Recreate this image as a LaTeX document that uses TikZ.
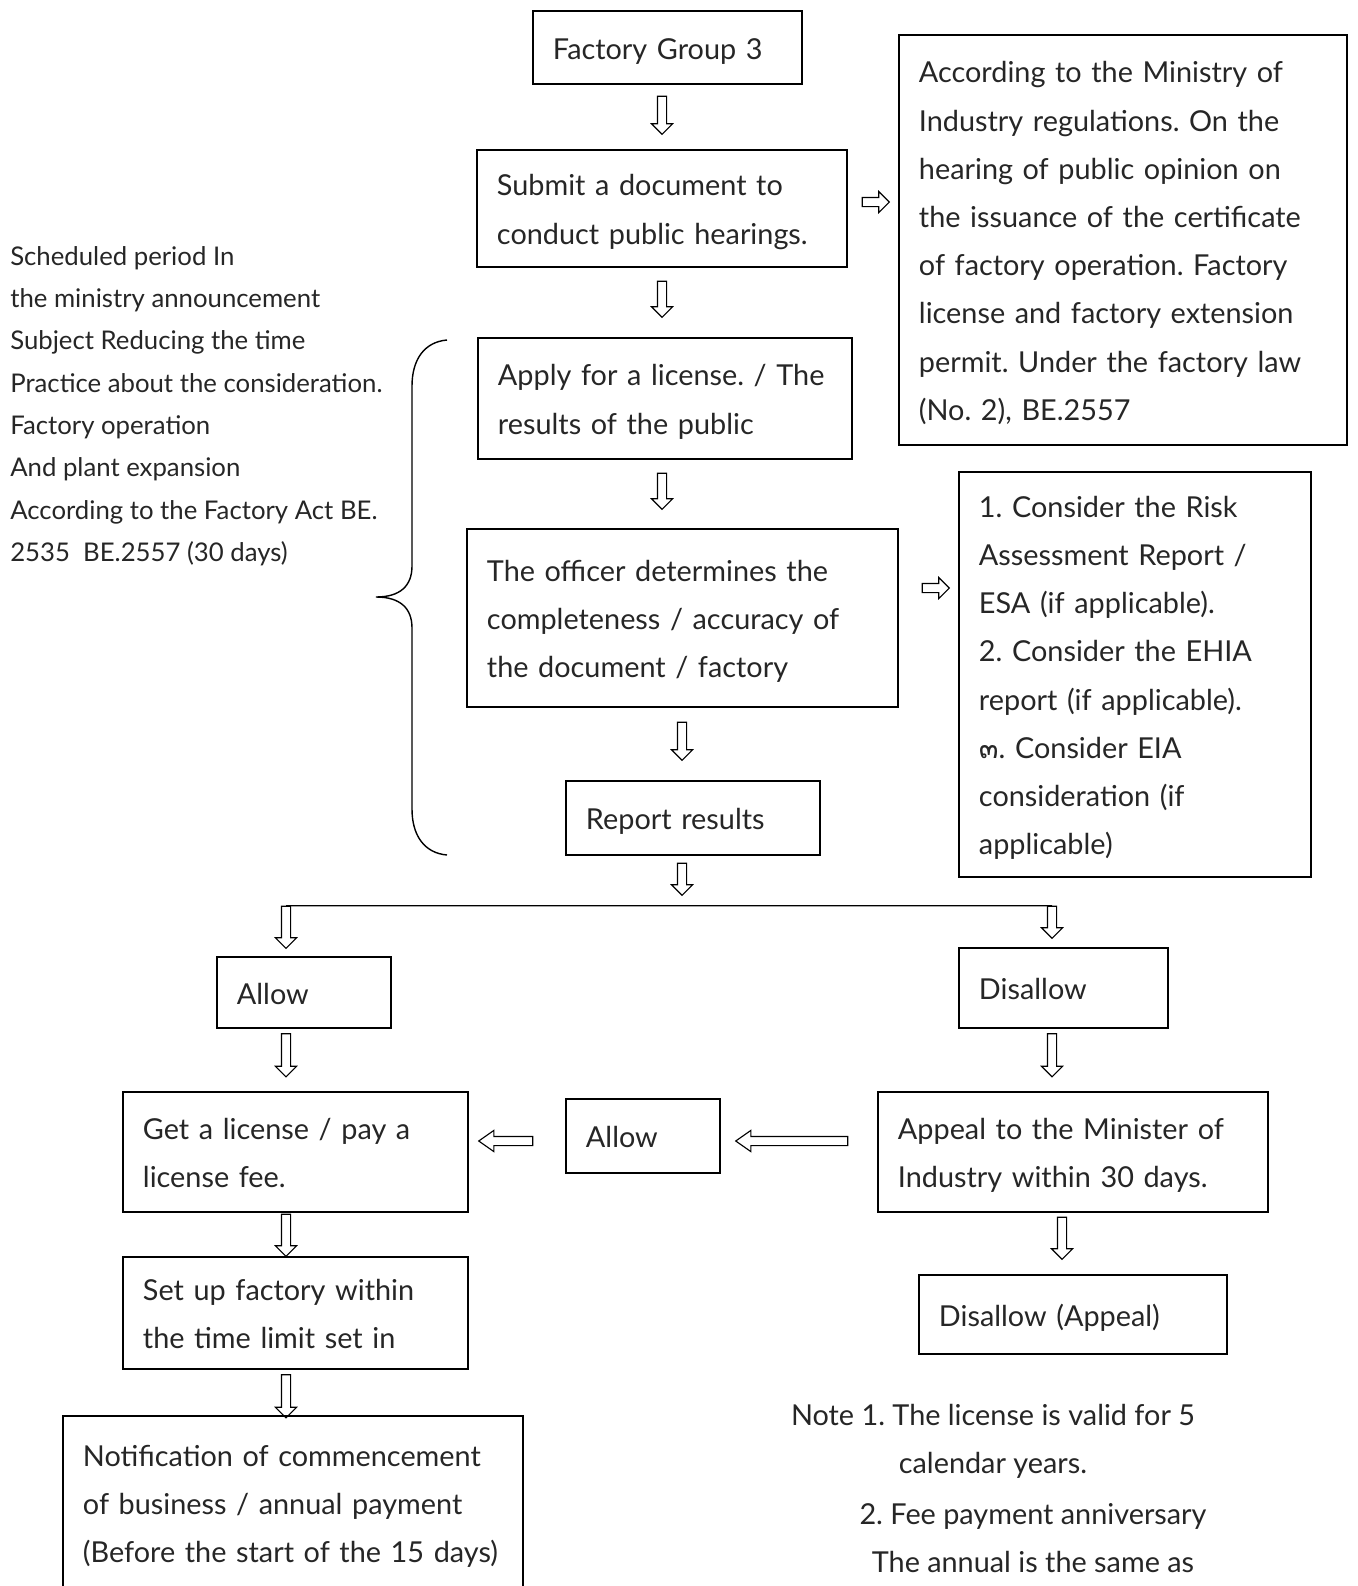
\documentclass[tikz,border=0pt]{standalone}
\usepackage{fontspec}
\setmainfont{Lato}
\newfontfamily\thaifont[Script=Thai]{Loma}
\usetikzlibrary{shapes.arrows}
\frenchspacing

\begin{document}
\begin{tikzpicture}[x=0.025cm,y=-0.025cm,
    every node/.style={text=black!85},
    box/.style={draw,line width=1.3pt,align=left,inner xsep=0.5cm,inner ysep=0pt,
      font=\fontsize{20.5}{34.3}\selectfont,
      execute at begin node={\rule{0pt}{22.5pt}},
      execute at end node={\rule[-6pt]{0pt}{6pt}}},
    fat/.style={single arrow,draw,line width=0.8pt,inner sep=0.1cm,
      single arrow head extend=0.15cm,minimum height=#1},
    darr/.style={fat=#1,shape border rotate=270},
    rarr/.style={fat=#1},
    larr/.style={fat=#1,shape border rotate=180,single arrow tip angle=70}]
    \useasboundingbox (0,0) rectangle (1357,1586);
    %
    \node[box,text width=5.725cm,minimum height=1.825cm] (grp) at (667.5,47.5) {Factory Group 3};
    \node[box,text width=8.25cm,minimum height=2.925cm] (sub) at (662,208.5)
      {Submit a document to\\conduct public hearings.};
    \node[box,text width=10.2cm,minimum height=10.25cm] (reg) at (1123,240)
      {According to the Ministry of\\Industry regulations. On the\\hearing of public opinion on\\the issuance of the certificate\\of factory operation. Factory\\license and factory extension\\permit. Under the factory law\\(No. 2), BE.2557};
    \node[box,text width=8.35cm,minimum height=3.025cm] (app) at (665,398.5)
      {Apply for a license. / The\\results of the public};
    \node[box,text width=9.775cm,minimum height=4.45cm] (off) at (682.5,618)
      {The officer determines the\\completeness / accuracy of\\the document / factory};
    \node[box,text width=7.8cm,minimum height=10.125cm] (chk) at (1135,674.5)
      {1. Consider the Risk\\Assessment Report /\\ESA (if applicable).\\2. Consider the EHIA\\report (if applicable).\\{\thaifont ๓}. Consider EIA\\consideration (if\\applicable)};
    \node[box,text width=5.35cm,minimum height=1.85cm] (rep) at (693,818) {Report results};
    \node[box,text width=3.35cm,minimum height=1.775cm] (ok) at (304,992.5) {Allow};
    \node[box,text width=4.225cm,minimum height=2cm] (no) at (1063.5,988) {Disallow};
    \node[box,text width=7.625cm,minimum height=3cm] (fee) at (295.5,1152)
      {Get a license / pay a\\license fee.};
    \node[box,text width=2.85cm,minimum height=1.85cm] (ok2) at (643,1136) {Allow};
    \node[box,text width=8.75cm,minimum height=3cm] (apl) at (1073,1152)
      {Appeal to the Minister of\\Industry within 30 days.};
    \node[box,text width=7.625cm,minimum height=2.8cm] (set) at (295.5,1313)
      {Set up factory within\\the time limit set in};
    \node[box,text width=6.7cm,minimum height=1.975cm] (no2) at (1073,1314.5) {Disallow (Appeal)};
    \node[box,text width=10.5cm,minimum height=4.35cm] (ntf) at (293,1503)
      {Notification of commencement\\of business / annual payment\\(Before the start of the 15 days)};
    %
    \node[anchor=west,align=left,inner sep=0pt,font=\fontsize{18.3}{30.1}\selectfont] (per) at (10,406)
      {Scheduled period In\\the ministry announcement\\Subject Reducing the time\\Practice about the consideration.\\Factory operation\\And plant expansion\\According to the Factory Act BE.\\2535\ \ BE.2557 (30 days)};
    \draw[line width=1pt] (447,340) .. controls (424,342) and (412,360) .. (412,386)
      -- (412,566) .. controls (412,586) and (400,597) .. (376,597)
      .. controls (400,597) and (412,608) .. (412,628)
      -- (412,809) .. controls (412,835) and (424,853) .. (447,855);
    %
    \node[align=center,font=\fontsize{20.5}{34.3}\selectfont] (nt1) at (993,1441)
      {Note 1. The license is valid for 5\\calendar years.};
    \node[align=center,font=\fontsize{20.5}{34.3}\selectfont] (nt2) at (1033,1538)
      {2. Fee payment anniversary\\The annual is the same as};
    %
    \node[darr=0.95cm] (a1) at (662,113) {};
    \node[darr=0.9cm] (a2) at (662,297) {};
    \node[darr=0.9cm] (a3) at (662,489) {};
    \node[darr=0.95cm] (a4) at (682,739) {};
    \node[darr=0.8cm] (a5) at (682,877) {};
    \node[darr=1.05cm] (b1) at (286,925) {};
    \node[darr=0.8cm] (b2) at (1052,920) {};
    \node[darr=1.075cm] (b3) at (286,1053) {};
    \node[darr=1.075cm] (b4) at (1052,1053) {};
    \node[darr=1.05cm] (b5) at (286,1233) {};
    \node[darr=1.075cm] (b6) at (286,1394) {};
    \node[darr=1.05cm] (b7) at (1062,1236) {};
    \node[rarr=0.675cm] (r1) at (873.5,202) {};
    \node[rarr=0.675cm] (r2) at (933.5,588) {};
    \node[larr=1.35cm] (l1) at (509,1141) {};
    \node[larr=2.8cm] (l2) at (795,1141) {};
    \draw[line width=1pt] (b1.tail) -- (b2.tail);
\end{tikzpicture}
\end{document}
